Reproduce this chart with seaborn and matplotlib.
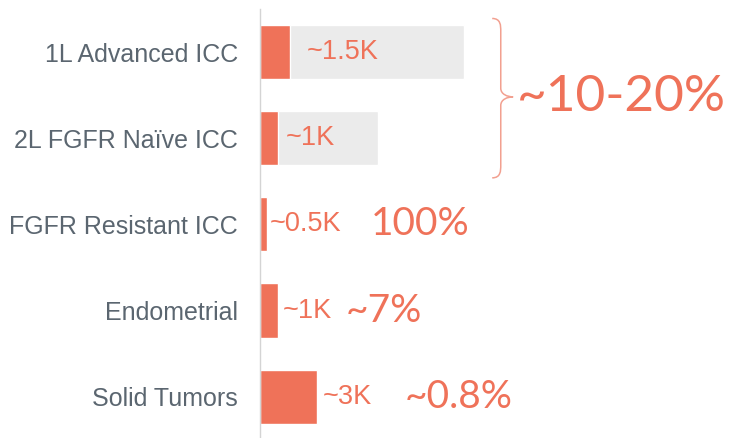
import numpy as np
import pandas as pd
import matplotlib
matplotlib.use("Agg")
import matplotlib.pyplot as plt
from matplotlib.path import Path
from matplotlib.patches import PathPatch
import seaborn as sns

# patient populations, in thousands
categories = ["1L Advanced ICC", "2L FGFR Naïve ICC", "FGFR Resistant ICC", "Endometrial", "Solid Tumors"]
total_pts = [10.7, 6.2, 0, 0, 0]
addressable_pts = [1.55, 0.95, 0.38, 0.95, 3.0]
value_labels = ["~1.5K", "~1K", "~0.5K", "~1K", "~3K"]
pct_labels = ["100%", "~7%", "~0.8%"]
group_label = "~10-20%"

# layout only
label_pad = [0.9, 0.42, 0.12, 0.26, 0.3]
pct_x = [5.8, 4.5, 7.6]
pct_row = [2, 3, 4]

ORANGE = "#EF7259"
GREY = "#EBEBEB"
TXT = "#5B6670"

sns.set_style("white")
plt.rcParams["font.family"] = ["Liberation Sans", "DejaVu Sans"]

df = pd.DataFrame({"cat": categories, "total": total_pts, "addr": addressable_pts})

fig = plt.figure(figsize=(7.32, 4.38), dpi=100)
ax = fig.add_axes([260 / 732, 0, 472 / 732, 429 / 438])

sns.barplot(data=df, x="total", y="cat", color=GREY, saturation=1, width=0.63, ax=ax)
sns.barplot(data=df, x="addr", y="cat", color=ORANGE, saturation=1, width=0.63, ax=ax)

ax.set_xlim(0, 24.8)
ax.set_ylim(4.48, -0.5)
ax.set_xlabel("")
ax.set_ylabel("")
ax.set_xticks([])
ax.tick_params(axis="y", length=0, pad=16, labelsize=18, labelcolor=TXT)
for s in ["top", "right", "bottom"]:
    ax.spines[s].set_visible(False)
ax.spines["left"].set_color("#D4D4D4")
ax.spines["left"].set_linewidth(1)

for i, (v, lab) in enumerate(zip(addressable_pts, value_labels)):
    ax.text(v + label_pad[i], i, lab, color=ORANGE, fontsize=19.5, va="center", ha="left")

for x, r, lab in zip(pct_x, pct_row, pct_labels):
    ax.text(x, r, lab, color=ORANGE, fontsize=28, va="center", ha="left",
            family=["Lato", "DejaVu Sans"])

# brace around the first two rows
xl, xm, xt = 12.2, 12.65, 13.3
yt, yb, yc = -0.39, 1.46, 0.52
verts = [
    (xl, yt), (xm, yt), (xm, yt + 0.08), (xm, yt + 0.15),
    (xm, yc - 0.1),
    (xm, yc - 0.03), (xt - 0.3, yc), (xt, yc),
    (xt - 0.3, yc), (xm, yc + 0.03), (xm, yc + 0.1),
    (xm, yb - 0.15),
    (xm, yb - 0.08), (xm, yb), (xl, yb),
]
codes = [Path.MOVETO, Path.CURVE4, Path.CURVE4, Path.CURVE4,
         Path.LINETO,
         Path.CURVE4, Path.CURVE4, Path.CURVE4,
         Path.CURVE4, Path.CURVE4, Path.CURVE4,
         Path.LINETO,
         Path.CURVE4, Path.CURVE4, Path.CURVE4]
ax.add_patch(PathPatch(Path(verts, codes), fill=False, edgecolor="#F2A090", lw=1.1))

ax.text(13.5, yc, group_label, color=ORANGE, fontsize=37, va="center", ha="left",
        family=["Lato", "DejaVu Sans"])

fig.savefig("out.png", dpi=100)
